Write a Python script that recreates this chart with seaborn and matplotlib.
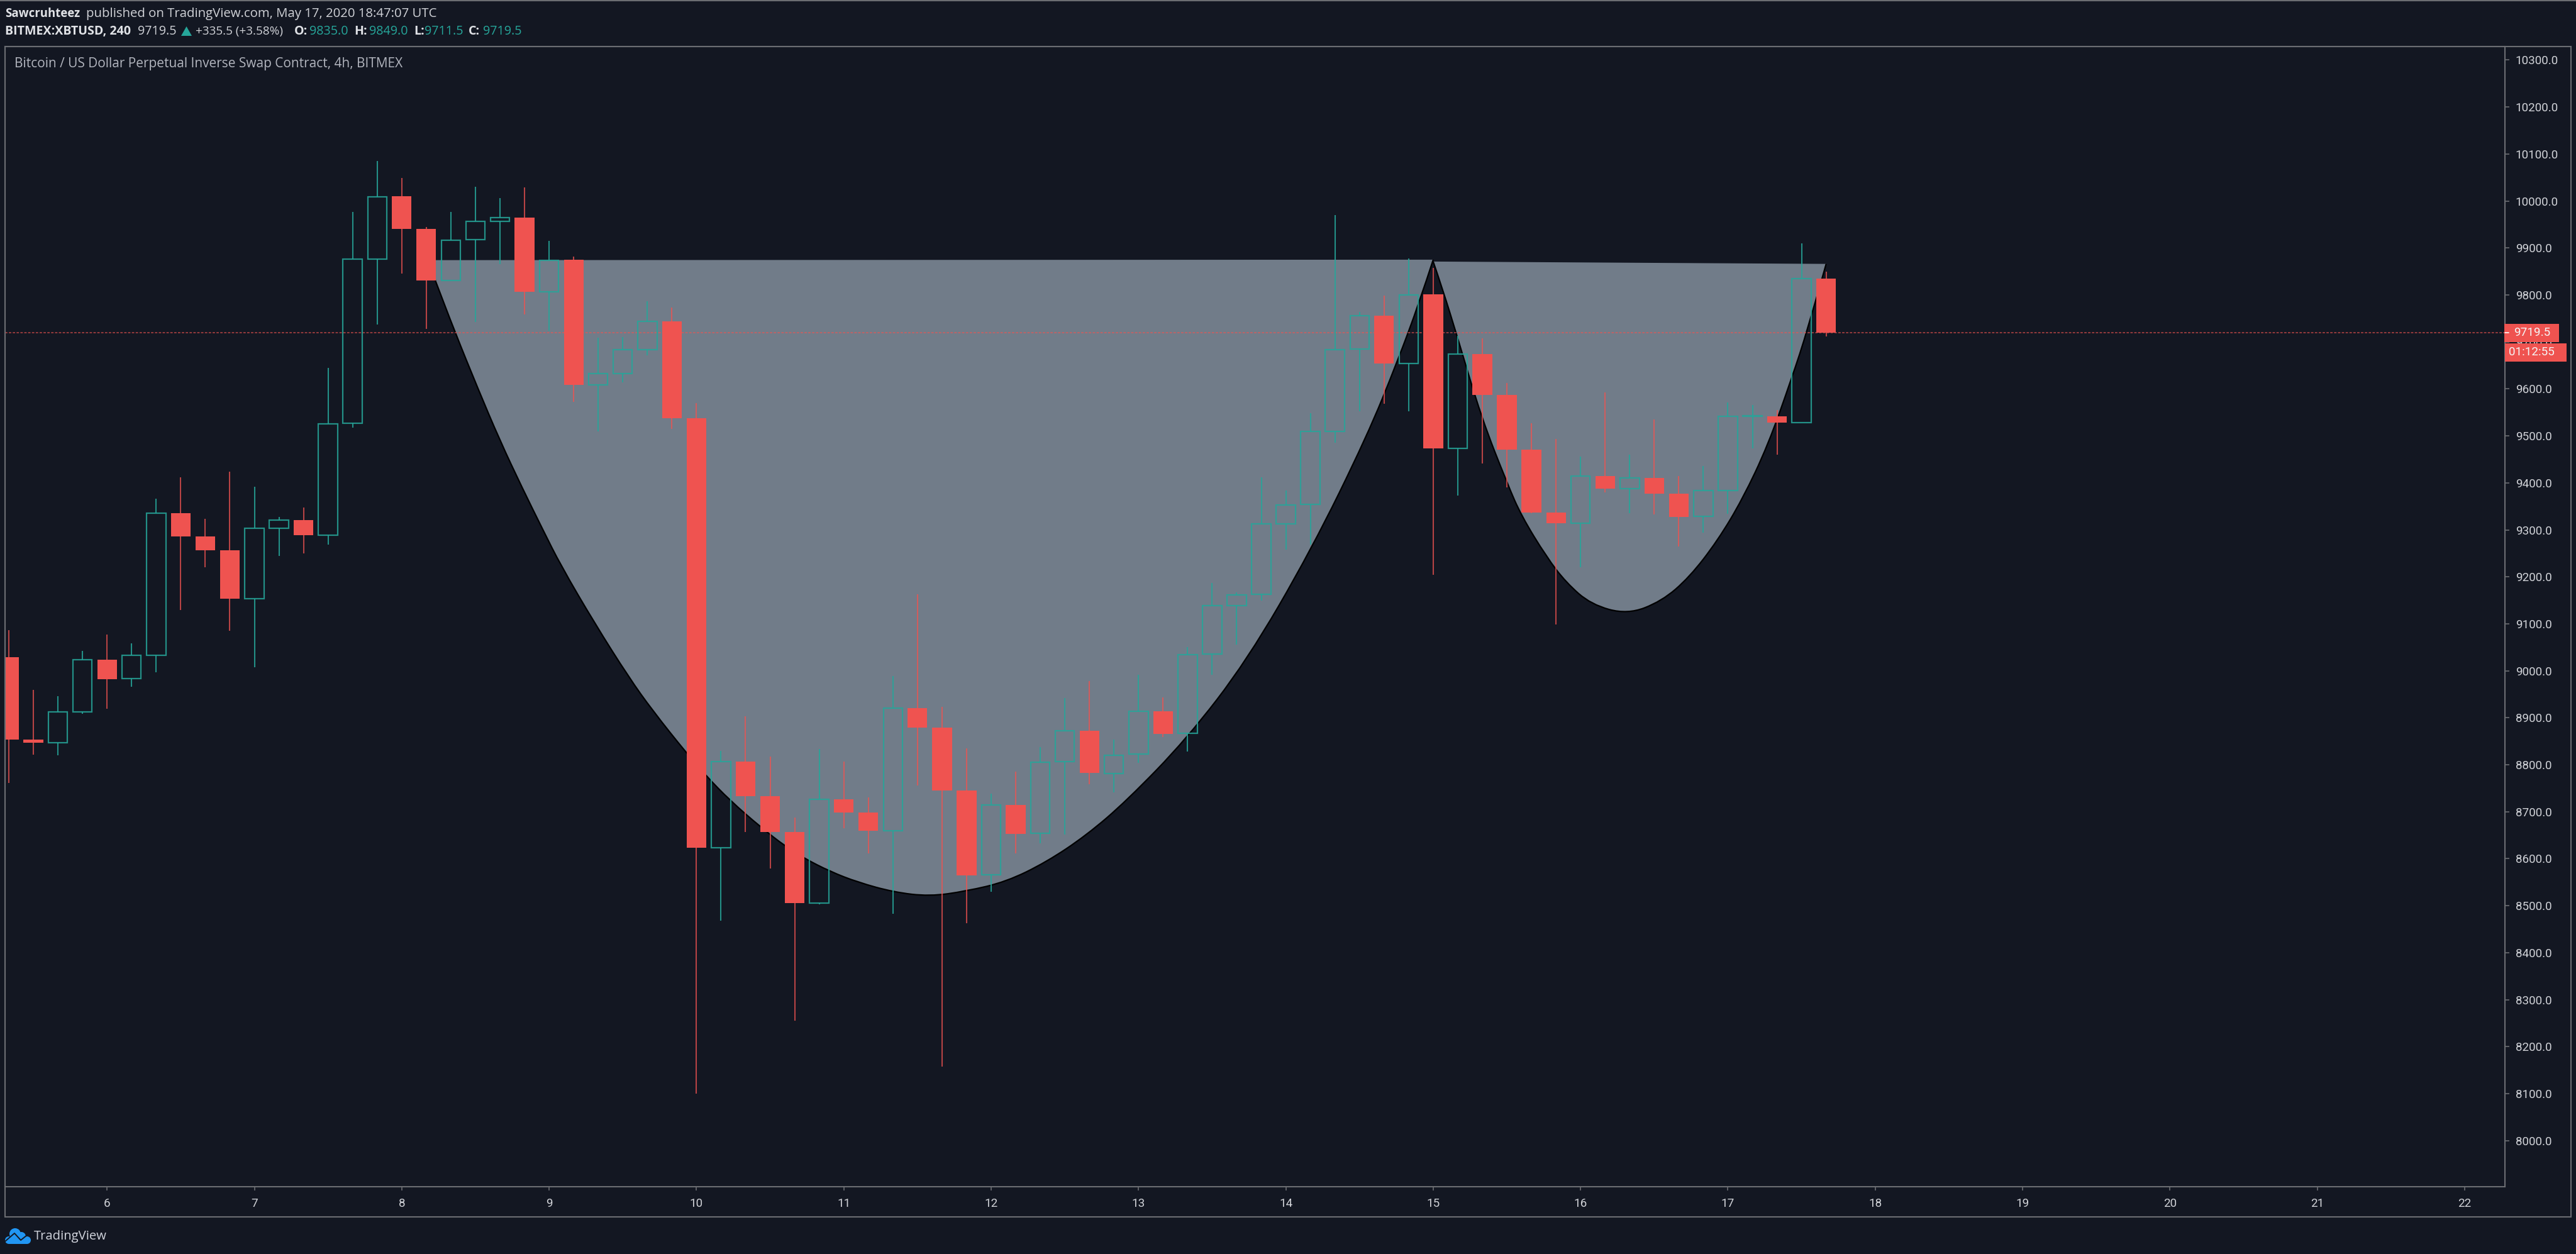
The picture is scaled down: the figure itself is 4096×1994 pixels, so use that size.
import pandas as pd
import matplotlib.pyplot as plt
from matplotlib.patches import Rectangle, Circle, Polygon, PathPatch
from matplotlib.path import Path
import seaborn as sns

opens = [9029, 8854, 8847, 8912, 9024, 8983, 9033, 9335, 9286, 9256, 9153, 9304, 9321, 9289, 9527,
         9876, 10010, 9941, 9831, 9918, 9957, 9965, 9807, 9875, 9608, 9633, 9683, 9744, 9537, 8624,
         8807, 8733, 8657, 8505, 8726, 8698, 8660, 8920, 8879, 8745, 8566, 8715, 8654, 8807, 8873,
         8782, 8823, 8914, 8867, 9035, 9139, 9163, 9313, 9354, 9510, 9685, 9756, 9654, 9801, 9474,
         9674, 9587, 9470, 9337, 9314, 9414, 9388, 9411, 9377, 9329, 9383, 9541, 9541, 9528, 9835]
highs = [9087, 8959, 8946, 9043, 9077, 9058, 9366, 9412, 9324, 9424, 9392, 9328, 9347, 9645, 9977,
         10085, 10049, 9945, 9976, 10030, 10006, 10029, 9915, 9882, 9709, 9710, 9787, 9773, 9570, 8829,
         8903, 8817, 8688, 8833, 8807, 8731, 8989, 9163, 8923, 8835, 8738, 8785, 8838, 8942, 8978,
         8853, 8991, 8943, 9050, 9187, 9167, 9412, 9384, 9548, 9970, 9764, 9798, 9878, 9857, 9713,
         9707, 9613, 9527, 9493, 9456, 9593, 9460, 9535, 9415, 9436, 9571, 9566, 9555, 9909, 9849]
lows = [8761, 8821, 8820, 8908, 8919, 8966, 8997, 9130, 9220, 9085, 9008, 9245, 9250, 9268, 9517,
        9737, 9845, 9727, 9831, 9742, 9866, 9759, 9723, 9572, 9510, 9614, 9671, 9515, 8100, 8468,
        8657, 8579, 8255, 8503, 8665, 8612, 8483, 8756, 8158, 8463, 8530, 8612, 8633, 8651, 8759,
        8741, 8804, 8859, 8828, 8992, 9056, 9149, 9258, 9268, 9486, 9552, 9568, 9552, 9204, 9373,
        9441, 9390, 9335, 9099, 9220, 9380, 9336, 9333, 9265, 9294, 9334, 9474, 9460, 9528, 9711.5]
closes = [8854, 8847, 8912, 9024, 8982, 9033, 9335, 9286, 9256, 9153, 9303, 9321, 9288, 9526, 9876,
          10009, 9941, 9831, 9917, 9956, 9965, 9806, 9874, 9608, 9632, 9683, 9744, 9537, 8624, 8807,
          8733, 8657, 8505, 8726, 8698, 8659, 8920, 8879, 8745, 8565, 8715, 8653, 8806, 8872, 8783,
          8820, 8914, 8866, 9034, 9139, 9162, 9313, 9353, 9509, 9684, 9756, 9654, 9800, 9474, 9674,
          9587, 9470, 9337, 9314, 9414, 9388, 9411, 9377, 9328, 9383, 9541, 9543, 9528, 9835, 9719.5]

# cup and handle outlines (candle index, price)
cup_x = [17.05, 17.36, 18.16, 19.10, 20.00, 20.90, 21.74, 22.48, 23.87, 25.25, 26.22, 27.61, 28.42, 29.37,
         30.60, 31.63, 32.39, 33.44, 34.57, 36.03, 37.49, 38.98, 40.61, 42.25, 43.88, 45.51, 47.96,
         50.42, 53.03, 55.31, 56.54, 57.44, 58.00]
cup_y = [9874, 9832, 9722, 9601, 9490, 9390, 9301, 9224, 9100, 8986, 8915, 8824, 8775, 8724,
         8668, 8626, 8601, 8573, 8550, 8529, 8520, 8531, 8551, 8593, 8650, 8723, 8855,
         9022, 9257, 9500, 9658, 9785, 9875]
handle_x = [58.00, 58.38, 59.00, 59.97, 61.03, 61.59, 62.62, 63.41, 64.43, 65.91, 67.30, 68.43, 69.58,
            70.60, 71.63, 72.60, 73.24, 74.00]
handle_y = [9871, 9813, 9708, 9538, 9397, 9330, 9242, 9188, 9141, 9120, 9148, 9199, 9277,
            9366, 9480, 9623, 9725, 9866]

last_price = 9719.5
price_ticks = list(range(8000, 10400, 100))
day_labels = list(range(6, 23))
day_index = [4 + 6 * (d - 6) for d in day_labels]

BG = '#131722'
RED = '#ef5350'
GREEN = '#26a69a'
FRAME = '#6b6d72'
TEXT = '#d0d2d7'
FONT = 'Open Sans'

sns.set_theme(style='dark', rc={'axes.facecolor': BG, 'figure.facecolor': BG})
plt.rcParams['font.family'] = [FONT, 'DejaVu Sans']

df = pd.DataFrame({'i': range(len(opens)), 'o': opens, 'h': highs, 'l': lows, 'c': closes})
df['top'] = df[['o', 'c']].max(axis=1)
df['bot'] = df[['o', 'c']].min(axis=1)
df['body'] = df['top'] - df['bot']
up = df[df['c'] >= df['o']]
down = df[df['c'] < df['o']]

W, H = 4096, 1994
fig = plt.figure(figsize=(W / 100, H / 100), dpi=100, facecolor=BG)
ax = fig.add_axes([8 / W, 1 - 1887 / H, (3983 - 8) / W, (1887 - 74) / H])


def curve(xs, ys):
    # the read points act as quadratic control points, so the edge has no kinks
    pts = list(zip(xs, ys))
    verts = [pts[0]]
    codes = [Path.MOVETO]
    for k in range(1, len(pts) - 1):
        if k < len(pts) - 2:
            end = ((pts[k][0] + pts[k + 1][0]) / 2, (pts[k][1] + pts[k + 1][1]) / 2)
        else:
            end = pts[-1]
        verts += [pts[k], end]
        codes += [Path.CURVE3, Path.CURVE3]
    return verts, codes


for xs, ys in [(cup_x, cup_y), (handle_x, handle_y)]:
    verts, codes = curve(xs, ys)
    ax.add_patch(PathPatch(Path(verts + [verts[0]], codes + [Path.LINETO]), fc='#717c89', ec='none', zorder=1))
    ax.add_patch(PathPatch(Path(verts, codes), fc='none', ec='#000000', lw=1.6, zorder=1.1))

ax.axhline(last_price, color=RED, lw=1.1, ls=(0, (2.5, 1.5)), alpha=0.75, zorder=1.2)

ax.vlines(down['i'], down['l'], down['h'], color=RED, lw=1.5, alpha=0.75, zorder=2)
ax.vlines(up['i'], up['top'], up['h'], color=GREEN, lw=1.5, alpha=0.85, zorder=2)
ax.vlines(up['i'], up['l'], up['bot'], color=GREEN, lw=1.5, alpha=0.85, zorder=2)

sns.barplot(data=down, x='i', y='body', bottom=down['bot'].values, native_scale=True, width=0.8,
            color=RED, saturation=1, errorbar=None, linewidth=0, zorder=3, ax=ax)
sns.barplot(data=up, x='i', y='body', bottom=up['bot'].values, native_scale=True, width=0.78,
            color=GREEN, saturation=1, errorbar=None, fill=False, linewidth=1.6, alpha=0.85, zorder=3, ax=ax)

ax.set_xlim(-0.154, 101.64)
ax.set_ylim(7902, 10328.6)
ax.set_xlabel('')
ax.set_ylabel('')
ax.grid(False)
ax.yaxis.tick_right()
ax.set_yticks(price_ticks)
ax.set_yticklabels([f'{p:.1f}' for p in price_ticks], family=['Roboto', 'DejaVu Sans'])
ax.set_xticks(day_index)
ax.set_xticklabels(day_labels, family=['Roboto', 'DejaVu Sans'])
ax.tick_params(axis='y', colors=FRAME, labelcolor=TEXT, labelsize=13.6, length=5, width=1.2, pad=7, right=True, left=False)
ax.tick_params(axis='x', colors=FRAME, labelcolor=TEXT, labelsize=13.6, length=4, width=1.2, pad=9, bottom=True)
for s in ax.spines.values():
    s.set_color(FRAME)
    s.set_linewidth(1.5)
    s.set_visible(True)

# page furniture, in pixels of the picture
page = fig.add_axes([0, 0, 1, 1], facecolor='none', zorder=5)
page.set_xlim(0, W)
page.set_ylim(H, 0)
page.axis('off')

page.add_patch(Rectangle((8, 74), 4088 - 8, 1935 - 74, fill=False, ec=FRAME, lw=1.5))
page.plot([0, W], [1, 1], color=FRAME, lw=1.5)


def label(x, y, s, color=TEXT, weight='normal', size=14.2, ha='left', font=FONT):
    page.text(x, y, s, color=color, fontweight=weight, fontsize=size, ha=ha, va='center', family=[font, 'DejaVu Sans'])


label(8, 22, 'Sawcruhteez', color='#e0e2e6', weight='bold', size=13.4)
label(137, 22, 'published on TradingView.com, May 17, 2020 18:47:07 UTC', size=14.7)
label(8, 50, 'BITMEX:XBTUSD, 240', color='#e0e2e6', weight='bold', size=14.1)
label(219, 50, '9719.5')
page.add_patch(Polygon([[288, 57], [305, 57], [296.5, 42]], color=GREEN, lw=0))
label(311, 50, '+335.5 (+3.58%)', size=13.6)
for x_key, key, x_val, val in [(468, 'O:', 492, '9835.0'), (563, 'H:', 587, '9849.0'),
                               (658, 'L:', 675, '9711.5'), (745, 'C:', 768, '9719.5')]:
    label(x_key, 50, key, color='#e0e2e6', weight='bold')
    label(x_val, 50, val, color=GREEN)
label(23, 101, 'Bitcoin / US Dollar Perpetual Inverse Swap Contract, 4h, BITMEX', color='#b2b5be', size=15)

page.add_patch(Rectangle((3982, 515), 87, 29, color=RED, lw=0))
page.add_patch(Rectangle((3983, 546), 98, 29, color=RED, lw=0))
page.plot([3983, 3989], [529, 529], color='#ffffff', lw=1.2)
label(3997, 529, '9719.5', color='#f5f5f5', size=13.6, font='Roboto')
label(3989, 560, '01:12:55', color='#f5f5f5', size=13.6, font='Roboto')

# logo
BLUE = '#2196f3'
for cx, cy, r in [(14, 1972, 6), (24, 1962, 9), (34, 1966, 7), (43, 1972, 6)]:
    page.add_patch(Circle((cx, cy), r, color=BLUE, lw=0))
page.add_patch(Rectangle((14, 1968), 29, 10, color=BLUE, lw=0))
page.plot([8, 23, 33, 48], [1974, 1961, 1972, 1960], color=BG, lw=1.4)
label(54, 1966, 'TradingView', color='#d1d4dc', size=14.6)

plt.savefig('out.png', dpi=100, facecolor=BG)
